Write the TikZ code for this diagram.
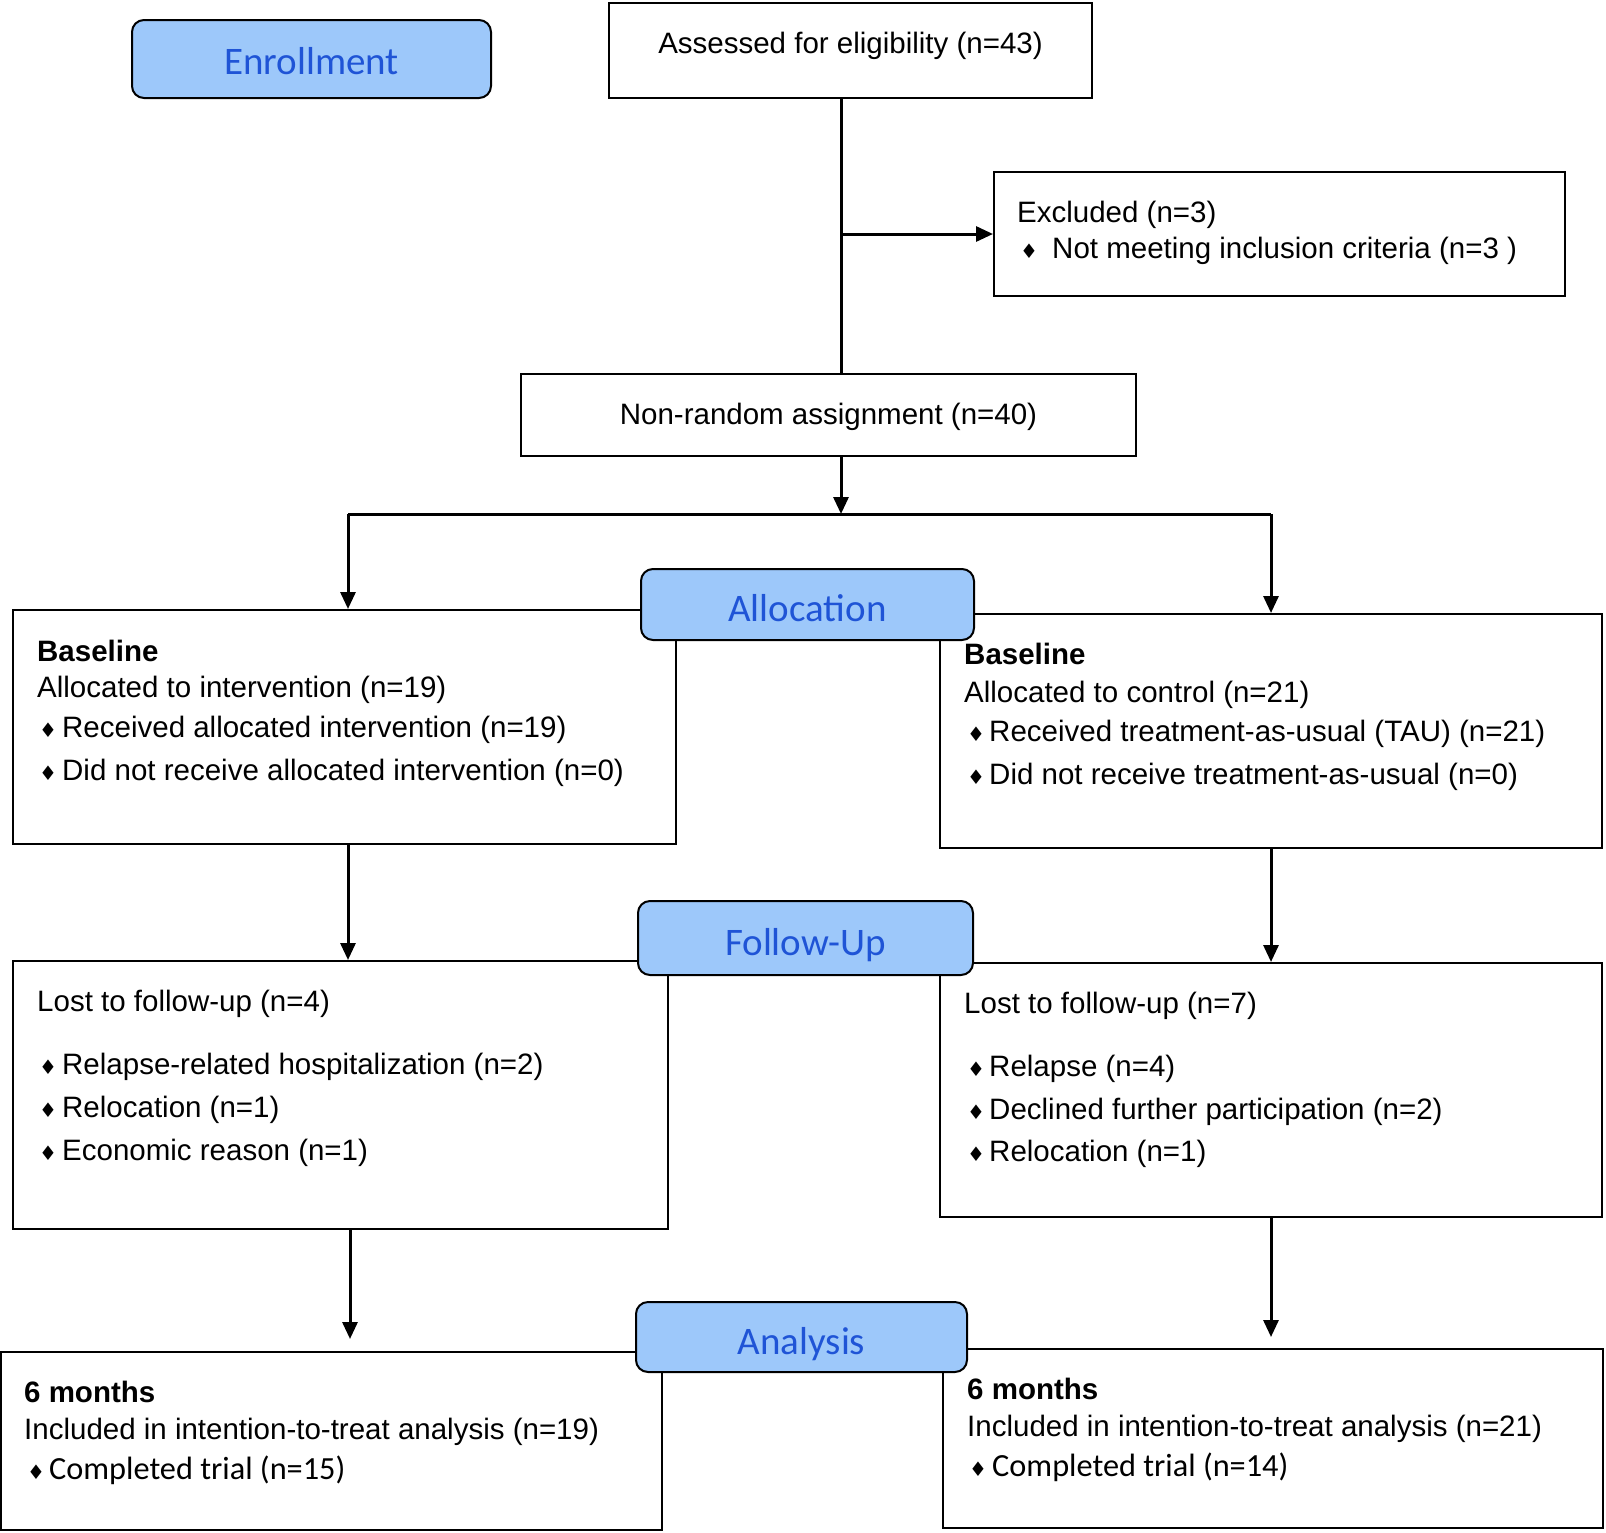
\documentclass[tikz,border=0pt]{standalone}
\usepackage{fontspec}
\setmainfont{Liberation Sans}
\newfontfamily\hdrfont{Carlito}
\newfontfamily\symfont{DejaVu Sans}
\usetikzlibrary{arrows.meta}
\definecolor{hdrfill}{RGB}{157,200,250}
\definecolor{hdrtext}{RGB}{31,84,214}
\newcommand{\mybul}[1][18pt]{\makebox[#1][l]{\hspace*{-5pt}\raisebox{0pt}{\symfont\fontsize{20}{20}\selectfont ♦}}}

\begin{document}
\begin{tikzpicture}[x=1pt,y=-1pt,
 box/.style={draw, line width=2pt, rectangle, inner sep=0pt, fill=white},
 hdr/.style={draw, line width=2pt, rounded corners=12pt, fill=hdrfill, text=hdrtext, font=\hdrfont\fontsize{39}{39}\selectfont, inner sep=0pt, text height=34pt, text depth=0pt},
 txt/.style={anchor=base west, inner sep=0pt, font=\fontsize{29.5}{35}\selectfont},
 ctxt/.style={anchor=base, inner sep=0pt, font=\fontsize{29.5}{35}\selectfont},
 conn/.style={line width=3pt},
 arr/.style={line width=3pt, -{Triangle[length=17pt,width=15pt]}},
]
\fill[white] (0,0) rectangle (1606,1532);
\useasboundingbox (0,0) rectangle (1606,1532);

% coordinates for connector columns
\coordinate (cx) at (841,0);
\coordinate (lx) at (348,0);
\coordinate (rx) at (1271,0);

% boxes
\node[box, minimum width=483pt, minimum height=95pt] (assess) at (850.5,50.5) {};
\node[box, minimum width=571pt, minimum height=124pt] (excl) at (1279.5,234) {};
\node[box, minimum width=615pt, minimum height=82pt] (nonrand) at (828.5,415) {};
\node[box, minimum width=663pt, minimum height=234pt] (base1) at (344.5,727) {};
\node[box, minimum width=662pt, minimum height=234pt] (base2) at (1271,731) {};
\node[box, minimum width=655pt, minimum height=268pt] (fu1) at (340.5,1095) {};
\node[box, minimum width=662pt, minimum height=254pt] (fu2) at (1271,1090) {};
\node[box, minimum width=661pt, minimum height=178pt] (six1) at (331.5,1441) {};
\node[box, minimum width=660pt, minimum height=179pt] (six2) at (1273,1438.5) {};

% connectors
\coordinate (split) at (841,514);
\coordinate (lsplit) at (348,514);
\coordinate (rsplit) at (1271,514);
\draw[conn] (assess.south -| cx) -- (nonrand.north -| cx);
\draw[arr] (cx |- excl.west) -- (excl.west);
\draw[arr] (nonrand.south -| cx) -- (split);
\draw[conn] (lsplit) -- (rsplit);
\draw[arr] (lsplit) -- (base1.north -| lx);
\draw[arr] (rsplit) -- (base2.north -| rx);
\draw[arr] (base1.south -| lx) -- (fu1.north -| lx);
\draw[arr] (base2.south -| rx) -- (fu2.north -| rx);
\draw[arr, shorten >=12pt] ([xshift=2pt]fu1.south -| lx) -- ([xshift=2pt]six1.north -| lx);
\draw[arr, shorten >=11pt] (fu2.south -| rx) -- (six2.north -| rx);

% headers
\node[hdr, minimum width=359pt, minimum height=78pt, text height=31pt] (enroll) at (311.5,59) {Enrollment};
\node[hdr, minimum width=333pt, minimum height=71pt] (alloc) at (807.5,604.5) {Allocation};
\node[hdr, minimum width=335pt, minimum height=74pt] (follow) at (805.5,938) {Follow-Up};
\node[hdr, minimum width=331pt, minimum height=70pt] (anal) at (801.5,1337) {Analysis};

% texts
\node[ctxt] (t-assess) at (850.5,53) {Assessed for eligibility (n=43)};
\node[txt] (t-excl1) at (1017,222) {Excluded (n=3)};
\node[txt] (t-excl2) at (1025,258) {\mybul[27pt]Not meeting inclusion criteria (n=3 )};
\node[ctxt] (t-nonrand) at (828.5,424) {Non-random assignment (n=40)};

\node[txt] (t-b1a) at (37,661) {\textbf{Baseline}};
\node[txt] (t-b1b) at (37,697) {Allocated to intervention (n=19)};
\node[txt] (t-b1c) at (44,737) {\mybul Received allocated intervention (n=19)};
\node[txt] (t-b1d) at (44,780) {\mybul Did not receive allocated intervention (n=0)};

\node[txt] (t-b2a) at (964,664) {\textbf{Baseline}};
\node[txt] (t-b2b) at (964,702) {Allocated to control (n=21)};
\node[txt] (t-b2c) at (972,741) {\mybul[17pt]Received treatment-as-usual (TAU) (n=21)};
\node[txt] (t-b2d) at (972,784) {\mybul[17pt]Did not receive treatment-as-usual (n=0)};

\node[txt] (t-f1a) at (37,1011) {Lost to follow-up (n=4)};
\node[txt] (t-f1b) at (44,1074) {\mybul Relapse-related hospitalization (n=2)};
\node[txt] (t-f1c) at (44,1117) {\mybul Relocation (n=1)};
\node[txt] (t-f1d) at (44,1160) {\mybul Economic reason (n=1)};

\node[txt] (t-f2a) at (964,1013) {Lost to follow-up (n=7)};
\node[txt] (t-f2b) at (972,1076) {\mybul[17pt]Relapse (n=4)};
\node[txt] (t-f2c) at (972,1119) {\mybul[17pt]Declined further participation (n=2)};
\node[txt] (t-f2d) at (972,1161) {\mybul[17pt]Relocation (n=1)};

\node[txt] (t-s1a) at (24,1402) {\textbf{6 months}};
\node[txt] (t-s1b) at (24,1439) {Included in intention-to-treat analysis (n=19)};
\node[txt] (t-s1c) at (32,1479) {\mybul[17pt]{\hdrfont\fontsize{32.3}{38}\selectfont Completed trial (n=15)}};

\node[txt] (t-s2a) at (967,1399) {\textbf{6 months}};
\node[txt] (t-s2b) at (967,1436) {Included in intention-to-treat analysis (n=21)};
\node[txt] (t-s2c) at (974,1476) {\mybul[18pt]{\hdrfont\fontsize{32.3}{38}\selectfont Completed trial (n=14)}};
\end{tikzpicture}
\end{document}
